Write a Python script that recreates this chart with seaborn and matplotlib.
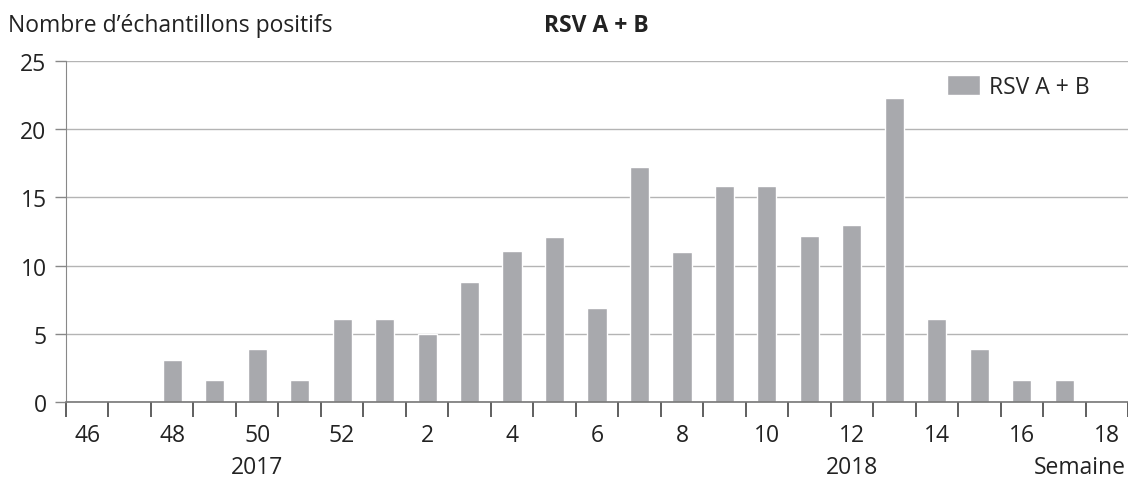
import matplotlib
matplotlib.use("Agg")
import matplotlib.pyplot as plt
import seaborn as sns
import pandas as pd

weeks = [46, 47, 48, 49, 50, 51, 52, 1, 2, 3, 4, 5, 6, 7, 8, 9, 10, 11, 12, 13, 14, 15, 16, 17, 18]
positives = [0, 0, 3.1, 1.6, 3.9, 1.6, 6.1, 6.1, 5.0, 8.8, 11.1, 12.1, 6.9, 17.2, 11.0, 15.8, 15.8, 12.2, 13.0, 22.3, 6.1, 3.9, 1.6, 1.6, 0]
series_name = "RSV A + B"
year_labels = {"2017": 50, "2018": 12}

df = pd.DataFrame({"week": [str(w) for w in weeks], "value": positives})

sns.set_style("white")
plt.rcParams['font.family'] = ['Open Sans', 'DejaVu Sans']

fig = plt.figure(figsize=(11.28, 4.81), dpi=100)
ax = fig.add_axes([66 / 1128, 78 / 481, 1 - 66 / 1128, 341 / 481])

bar_color = '#a8a9ad'
sns.barplot(data=df, x="week", y="value", color=bar_color, width=0.45,
            saturation=1, ax=ax, label=series_name, zorder=3)

ax.set_ylim(0, 25)
ax.set_xlim(-0.5, 24.45)
ax.set_yticks(range(0, 26, 5))
ax.yaxis.grid(True, color='#b4b4b4', linewidth=1, zorder=0)
ax.xaxis.grid(False)

for side in ['top', 'right']:
    ax.spines[side].set_visible(False)
ax.spines['left'].set_color('#888888')
ax.spines['bottom'].set_color('#777777')
ax.spines['bottom'].set_linewidth(1.2)
ax.spines['bottom'].set_zorder(4)

# major ticks between categories, labels on every other week
ax.set_xticks([i - 0.5 for i in range(len(weeks) + 1)])
ax.set_xticklabels([])
ax.set_xticks(range(0, len(weeks), 2), minor=True)
ax.set_xticklabels([str(weeks[i]) for i in range(0, len(weeks), 2)], minor=True)
ax.tick_params(axis='x', which='major', bottom=True, length=11, width=1.2, color='#444444', direction='out')
ax.tick_params(axis='x', which='minor', bottom=True, length=0, pad=15, labelsize=16.5, labelcolor='#222222')
ax.tick_params(axis='y', left=True, length=8, width=1, color='#888888', labelsize=16.5, labelcolor='#222222', pad=6)
ax.set_xlabel('')
ax.set_ylabel('')

bottom_row = fig.transFigure.inverted()
for yr, wk in year_labels.items():
    x_fig = bottom_row.transform(ax.transData.transform((weeks.index(wk), 0)))[0]
    fig.text(x_fig, 13 / 481, yr, ha='center', va='center', fontsize=16.5, color='#222222')
fig.text(1126 / 1128, 13 / 481, 'Semaine', ha='right', va='center', fontsize=16.5, color='#222222')

fig.text(8 / 1128, 1 - 26 / 481, "Nombre d\u2019\u00e9chantillons positifs", ha='left', va='center',
         fontsize=16.5, color='#222222')
fig.text(596 / 1128, 1 - 26 / 481, series_name, ha='center', va='center',
         fontsize=16.5, fontweight='bold', color='#222222')

ax.legend(loc='upper left', bbox_to_anchor=(0.83, 0.96), frameon=False, fontsize=16.5,
          handlelength=1.4, handleheight=1.0, handletextpad=0.4, borderaxespad=0, borderpad=0)

fig.savefig('out.png', dpi=100)
